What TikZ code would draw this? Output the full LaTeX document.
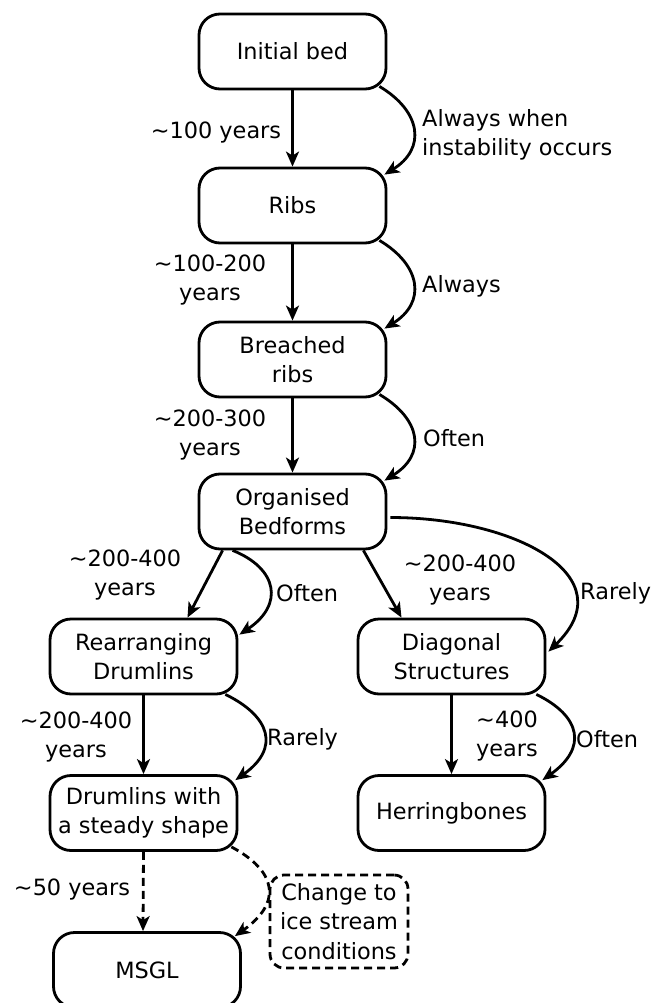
\documentclass[tikz,border=0pt]{standalone}
\usepackage{fontspec}
\setmainfont{DejaVu Sans}
\usetikzlibrary{arrows.meta,calc}
\tikzset{
  box/.style={draw, line width=2.8pt, rounded corners=21pt, minimum width=187pt,
    minimum height=75pt, align=center, inner sep=2pt},
  dbox/.style={draw, line width=2.8pt, rounded corners=14pt, dash pattern=on 8pt off 5pt,
    minimum width=138pt, minimum height=93pt, align=center, inner sep=2pt},
  lbl/.style={align=center, inner sep=0pt},
  arr/.style={line width=2.8pt, -{Stealth[length=15pt,width=13pt,inset=4pt]}},
  darr/.style={arr, dash pattern=on 8pt off 5pt},
}
\begin{document}
\begin{tikzpicture}[x=1pt,y=-1pt,font=\fontsize{22.4}{29.5}\selectfont]
\useasboundingbox (0,0) rectangle (662,1003);
\clip (0,0) rectangle (662,1003);
% nodes
\node[box] (ib)   at (292.5,51.5)  {Initial bed};
\node[box] (ribs) at (292.5,205.5) {Ribs};
\node[box] (br)   at (292.5,359.5) {Breached\\ribs};
\node[box] (org)  at (292.5,511.5) {Organised\\Bedforms};
\node[box] (rear) at (143.5,656.5) {Rearranging\\Drumlins};
\node[box] (diag) at (451.5,656.5) {Diagonal\\Structures};
\node[box] (drum) at (143.5,813)   {Drumlins with\\a steady shape};
\node[box] (herr) at (451.5,813)   {Herringbones};
\node[box] (msgl) at (147,970)     {MSGL};
\node[dbox] (chg) at (339,921.5)   {Change to\\ice stream\\conditions};
% labels
\node[lbl] (l1) at (216,133) {\textasciitilde100 years};
\node[lbl, anchor=west, align=left] (l2) at (422,135) {Always when\\instability occurs};
\node[lbl] (l3) at (210,280) {\textasciitilde100-200\\years};
\node[lbl, anchor=west] (l4) at (422,286) {Always};
\node[lbl] (l5) at (210,435) {\textasciitilde200-300\\years};
\node[lbl, anchor=west] (l6) at (423,438) {Often};
\node[lbl] (l7) at (125,575) {\textasciitilde200-400\\years};
\node[lbl, anchor=west] (l8) at (276,593) {Often};
\node[lbl] (l9) at (460,580) {\textasciitilde200-400\\years};
\node[lbl, anchor=west] (l10) at (580,593) {Rarely};
\node[lbl] (l11) at (76,737) {\textasciitilde200-400\\years};
\node[lbl, anchor=west] (l12) at (267,739) {Rarely};
\node[lbl] (l13) at (507,736) {\textasciitilde400\\years};
\node[lbl, anchor=west] (l14) at (576,739) {Often};
\node[lbl] (l15) at (72,890) {\textasciitilde50 years};
% straight arrows
\draw[arr] (ib.south) -- (ribs.north);
\draw[arr] (ribs.south) -- (br.north);
\draw[arr] (br.south) -- (org.north);
\draw[arr] ($(org.south west)+(25,0)$) -- ($(rear.north)+(44,0)$);
\draw[arr] ($(org.south east)+(-24,0)$) -- ($(diag.north)+(-50,0)$);
\draw[arr] (rear.south) -- (drum.north);
\draw[arr] (diag.south) -- (herr.north);
\draw[darr] (drum.south) -- ($(msgl.north)+(-4,0)$);
% curved arrows
\draw[arr] ($(ib.south east)+(-8,-4)$) .. controls +(42,25) and +(42,-26) .. ($(ribs.north east)+(-3,8)$);
\draw[arr] ($(ribs.south east)+(-8,-4)$) .. controls +(42,25) and +(42,-26) .. ($(br.north east)+(-3,8)$);
\draw[arr] ($(br.south east)+(-8,-4)$) .. controls +(42,25) and +(42,-26) .. ($(org.north east)+(-3,8)$);
\draw[arr] ($(org.south west)+(35,0)$) .. controls +(45,18) and +(45,-30) .. ($(rear.north east)+(1,17)$);
\draw[arr] ($(org.east)+(3,6)$) .. controls +(125,0) and +(78,-75) .. ($(diag.north east)+(2,34)$);
\draw[arr] ($(rear.south east)+(-13,-1)$) .. controls +(45,22) and +(45,-32) .. ($(drum.north east)+(-3,6)$);
\draw[arr] ($(diag.south east)+(-10,-1)$) .. controls +(45,22) and +(45,-32) .. ($(herr.north east)+(-4,6)$);
\draw[darr] ($(drum.south east)+(-7,-5)$) .. controls +(45,24) and +(48,-34) .. ($(msgl.north east)+(-7,5)$);
\end{tikzpicture}
\end{document}
